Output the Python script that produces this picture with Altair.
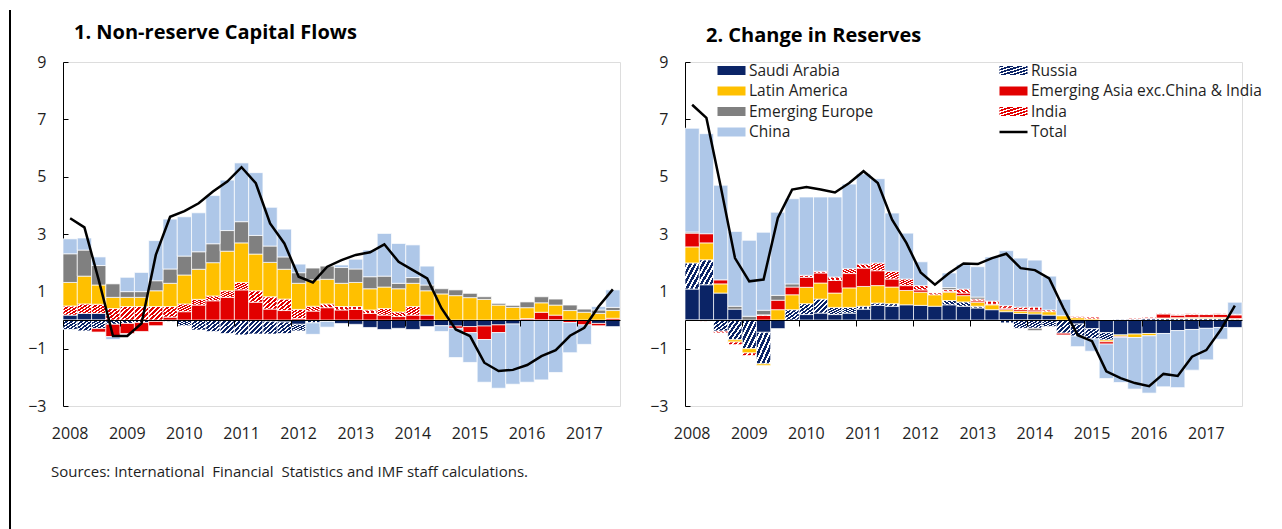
import altair as alt
import pandas as pd

FONT = "Open Sans"
years = list(range(2008, 2018))
quarters = [f"{y}Q{q}" for y in years for q in (1, 2, 3, 4)][:39]
year_starts = [f"{y}Q1" for y in years]

SERIES = ["Saudi Arabia", "Russia", "Latin America", "Emerging Asia exc.China & India",
          "Emerging Europe", "India", "China", "Total"]

# ---------------- Panel 1: Non-reserve capital flows ----------------
p1_saudi = [0.17, 0.23, 0.23, 0, 0, 0, 0, 0, 0, 0, 0, 0, 0, 0, -0.04, -0.07, -0.15, 0, 0, -0.12,
            -0.15, -0.26, -0.33, -0.29, -0.33, -0.23, -0.20, -0.21, -0.23, -0.21, -0.17, -0.14, 0, 0, 0, 0, 0, -0.12, -0.23]
p1_russia = [-0.33, -0.38, -0.30, -0.15, -0.12, -0.09, -0.05, -0.05, -0.20, -0.35, -0.40, -0.47, -0.52, -0.49, -0.45, -0.40,
             -0.23, -0.10, -0.05, 0, 0, 0, 0, 0, 0, 0, 0, 0, 0, 0, 0, 0, 0, 0, 0, 0, 0, 0, 0]
p1_emasia = [0, 0, -0.12, -0.43, -0.35, -0.31, -0.15, 0.10, 0.29, 0.52, 0.67, 0.79, 1.05, 0.62, 0.38, 0.33, 0.05, 0.31,
             0.43, 0.35, 0.37, 0.23, 0.17, 0.12, 0.17, 0.17, 0, -0.08, -0.21, -0.47, -0.27, 0, 0.05, 0.27, 0.17, -0.09, -0.17, -0.08, 0.06]
p1_india = [0.32, 0.33, 0.32, 0.40, 0.47, 0.47, 0.47, 0.37, 0.27, 0.20, 0.17, 0.23, 0.26, 0.40, 0.43, 0.40, 0.32, 0.17,
            0.13, 0.12, 0.10, 0.12, 0.23, 0.16, 0.30, 0, 0, 0, 0, 0, 0, 0, 0, 0, 0, 0, 0, 0, 0]
p1_latam = [0.82, 0.97, 0.67, 0.39, 0.32, 0.32, 0.55, 0.81, 1.01, 1.05, 1.16, 1.38, 1.38, 1.28, 1.20, 1.04, 0.91, 0.92,
            0.86, 0.81, 0.84, 0.74, 0.75, 0.81, 0.81, 0.85, 0.91, 0.85, 0.78, 0.72, 0.52, 0.44, 0.38, 0.33, 0.35, 0.33, 0.27, 0.23, 0.27]
p1_emeu = [1.00, 0.91, 0.68, 0.47, 0.20, 0.20, 0.35, 0.50, 0.66, 0.61, 0.66, 0.72, 0.74, 0.65, 0.57, 0.43, 0.37, 0.41,
           0.46, 0.55, 0.47, 0.42, 0.38, 0.19, 0.20, 0.20, 0.18, 0.20, 0.15, 0.09, 0.06, 0.07, 0.20, 0.21, 0.21, 0.19, 0.11, 0.12, 0.11]
p1_china = [0.52, 0.42, 0.30, -0.10, 0.50, 0.67, 1.40, 1.74, 1.37, 1.36, 1.68, 1.76, 2.05, 2.19, 1.35, 0.97, 0.30, -0.40,
            -0.20, 0.09, 0.34, 0.93, 1.49, 1.39, 1.14, 0.66, -0.20, -1.02, -1.04, -1.49, -1.94, -2.10, -2.17, -2.09, -1.83, -1.05, -0.68, 0.12, 0.61]
p1_total = [3.55, 3.23, 1.40, -0.56, -0.56, -0.12, 2.27, 3.60, 3.80, 4.07, 4.48, 4.83, 5.33, 4.77, 3.37, 2.67, 1.51, 1.31,
            1.86, 2.09, 2.27, 2.36, 2.64, 2.03, 1.74, 1.45, 0.41, -0.33, -0.56, -1.49, -1.78, -1.74, -1.57, -1.26, -1.05, -0.55, -0.27, 0.47, 1.07]

# ---------------- Panel 2: Change in reserves ----------------
p2_saudi = [1.08, 1.23, 0.94, 0.38, 0, -0.43, -0.30, 0, 0.19, 0.24, 0.19, 0.24, 0.38, 0.51, 0.48, 0.53, 0.51, 0.48,
            0.53, 0.48, 0.42, 0.36, 0.29, 0.23, 0.21, 0.17, 0, -0.14, -0.30, -0.44, -0.52, -0.49, -0.47, -0.47, -0.37, -0.33, -0.29, -0.26, -0.26]
p2_russia = [0.91, 0.87, -0.39, -0.69, -1.00, -1.10, 0, 0.36, 0.38, 0.49, 0.25, 0.20, 0.10, 0.08, 0.09, 0, 0, 0,
             0.15, 0.15, 0.06, 0, -0.10, -0.29, -0.29, -0.23, -0.46, -0.42, -0.36, -0.26, 0.02, 0.03, 0.05, 0.05, 0.05, 0.05, 0.05, 0.05, 0.03]
p2_latam = [0.56, 0.59, 0.32, -0.08, -0.15, -0.06, 0.36, 0.52, 0.57, 0.56, 0.50, 0.68, 0.69, 0.61, 0.58, 0.50, 0.46, 0.40,
            0.29, 0.22, 0.14, 0.17, 0.07, 0.08, 0.08, 0.12, 0.15, 0.08, 0.04, -0.06, -0.05, -0.12, -0.08, 0.02, 0.03, 0.04, 0.04, 0.04, 0.02]
p2_emasia = [0.48, 0.32, 0.14, 0, 0, 0.16, 0.33, 0.27, 0.35, 0.35, 0.44, 0.50, 0.64, 0.52, 0.28, 0.17, 0.08, 0,
             0.03, 0.09, 0.05, 0.02, 0.05, 0.06, 0.06, 0, -0.06, 0, 0, -0.08, -0.03, 0, 0.02, 0.14, 0.09, 0.10, 0.10, 0.11, 0.13]
p2_india = [-0.03, -0.04, -0.06, -0.09, -0.09, 0.02, 0, 0, 0.07, 0.06, 0.12, 0.17, 0.14, 0.27, 0.27, 0.23, 0.15, 0.06,
            0.06, 0.14, 0.06, 0.11, 0.09, 0.08, 0.10, 0.06, 0, 0.04, 0.06, 0, 0, 0.03, 0.03, 0.02, 0.02, 0.03, 0.02, 0.02, 0.02]
p2_emeu = [0.04, 0, 0, 0.10, 0.13, 0.16, 0.17, 0.11, 0, 0, 0, 0, 0, 0, 0, 0, 0, 0,
           0.07, 0, 0.07, 0, 0, 0, -0.08, 0, 0, 0, 0, 0, 0, 0, 0, 0, 0, 0, 0, 0, 0]
p2_china = [3.62, 3.49, 3.30, 2.61, 2.65, 2.72, 2.90, 2.97, 2.73, 2.59, 2.79, 2.95, 3.15, 2.94, 2.03, 1.60, 0.83, 0,
            0.51, 0.85, 1.06, 1.54, 1.92, 1.71, 1.64, 1.18, 0.57, -0.37, -0.43, -1.20, -1.58, -1.80, -2.00, -1.86, -1.99, -1.42, -1.10, -0.41, 0.42]
p2_total = [7.51, 7.05, 4.66, 2.16, 1.35, 1.41, 3.56, 4.55, 4.64, 4.55, 4.45, 4.78, 5.19, 4.78, 3.50, 2.69, 1.66, 1.23,
            1.64, 1.97, 1.95, 2.16, 2.31, 1.81, 1.74, 1.45, 0.41, -0.53, -0.74, -1.79, -2.03, -2.20, -2.31, -1.88, -1.95, -1.28, -1.05, -0.35, 0.50]

y_ticks = [-3, -1, 1, 3, 5, 7, 9]
SOURCE = "Sources: International\u00a0 Financial\u00a0 Statistics and IMF staff calculations."

NAVY = "#0b2466"
RED = "#e20000"
TXT = "#1e1e1e"


def stripes(color, n=6, frac=0.58):
    stops = []
    for k in range(n):
        a, b, c = k / n, (k + frac) / n, (k + 1) / n
        stops += [f"{{offset:{a:.4f},color:'{color}'}}", f"{{offset:{b:.4f},color:'{color}'}}",
                  f"{{offset:{b:.4f},color:'#ffffff'}}", f"{{offset:{c:.4f},color:'#ffffff'}}"]
    return "{gradient:'linear',x1:0,y1:0,x2:1,y2:1,stops:[" + ",".join(stops) + "]}"


RANGE = [NAVY, alt.ExprRef(expr=stripes(NAVY)), "#ffc000", RED, "#808080",
         alt.ExprRef(expr=stripes(RED)), "#aec7e8", "#000000"]

W, H = 557, 344
ZERO_OFFSET = -H * 3 / 12


def long_df(series, order):
    rows = []
    for name, vals in series.items():
        for q, v in zip(quarters, vals):
            if v != 0:
                rows.append({"q": q, "series": name, "v": v, "ord": order.index(name)})
    return pd.DataFrame(rows)


def panel(series, order, total, title, dx, toff, legend, extras):
    df = long_df(series, order)
    tdf = pd.DataFrame({"q": quarters, "total": total})
    xs = alt.Scale(domain=quarters, paddingInner=0, paddingOuter=0)
    ys = alt.Scale(domain=[-3, 9], nice=False, zero=False)
    bars = alt.Chart(df).mark_bar(stroke="white", strokeWidth=0.7).encode(
        x=alt.X("q:N", scale=xs, axis=alt.Axis(
            orient="bottom", offset=ZERO_OFFSET, labels=False, domain=True, domainColor="black",
            domainWidth=1, ticks=True, tickSize=6, tickColor="black", tickWidth=1,
            values=year_starts, bandPosition=0, grid=False, title=None, zindex=1)),
        y=alt.Y("v:Q", stack="zero", scale=ys, axis=alt.Axis(
            orient="left", values=y_ticks, ticks=False, tickSize=0, labelPadding=17, domainColor="black",
            domainWidth=1, grid=False, title=None, labelFont=FONT, labelFontSize=16, labelColor=TXT)),
        color=alt.Color("series:N", scale=alt.Scale(domain=SERIES, range=RANGE), legend=legend),
        order=alt.Order("ord:Q", sort="ascending"),
    )
    line = alt.Chart(tdf).mark_line(color="black", strokeWidth=2.5).encode(
        x=alt.X("q:N", scale=xs, axis=alt.Axis(
            orient="bottom", labels=True, ticks=False, domain=False, values=year_starts, labelAngle=0,
            labelExpr="slice(datum.value, 0, 4)", labelPadding=19, labelFont=FONT, labelFontSize=16,
            labelColor=TXT, grid=False, title=None)),
        y=alt.Y("total:Q", scale=ys, axis=alt.Axis(
            orient="right", offset=-W, labels=False, domain=False, ticks=True, tickSize=5,
            tickColor="black", values=y_ticks, grid=False, title=None)),
    )
    layers = [bars, line] + extras
    return alt.layer(*layers).resolve_axis(x="independent", y="independent").properties(
        width=W, height=H,
        title=alt.TitleParams(title, anchor="start", frame="group", dx=dx, offset=toff,
                              font=FONT, fontSize=20, fontWeight="bold", color="black"),
    )


order1 = ["Saudi Arabia", "Russia", "Emerging Asia exc.China & India", "India", "Latin America",
          "Emerging Europe", "China"]
order2 = ["Saudi Arabia", "Russia", "Latin America", "Emerging Asia exc.China & India", "India",
          "Emerging Europe", "China"]

border = alt.Chart(pd.DataFrame({"a": [0]})).mark_rule(color="black", strokeWidth=2).encode(
    x=alt.value(-53), y=alt.value(-52), y2=alt.value(480))
source = alt.Chart(pd.DataFrame({"t": [SOURCE]})).mark_text(
    align="left", baseline="middle", font=FONT, fontSize=15, color=TXT).encode(
    x=alt.value(-12), y=alt.value(410), text="t:N")

p1 = panel({"Saudi Arabia": p1_saudi, "Russia": p1_russia, "Emerging Asia exc.China & India": p1_emasia,
            "India": p1_india, "Latin America": p1_latam, "Emerging Europe": p1_emeu, "China": p1_china},
           order1, p1_total, "1. Non-reserve Capital Flows", 11, -33.5, None, [border, source])

legend = alt.Legend(
    title=None, orient="none", legendX=36, legendY=-2, columns=2, direction="horizontal", padding=0,
    symbolType=alt.ExprRef(expr="datum.value === 'Total' ? 'M-1.556,0H1.556' : 'M-1.556,-0.5H1.556V0.5H-1.556Z'"),
    symbolSize=324, symbolStrokeColor=alt.ExprRef(expr="datum.value === 'Total' ? '#000000' : 'transparent'"),
    symbolStrokeWidth=2.5, labelFont=FONT, labelFontSize=15.5, labelColor=TXT, labelOffset=7,
    rowPadding=0.5, columnPadding=120, labelLimit=0)

p2 = panel({"Saudi Arabia": p2_saudi, "Russia": p2_russia, "Latin America": p2_latam,
            "Emerging Asia exc.China & India": p2_emasia, "India": p2_india, "Emerging Europe": p2_emeu,
            "China": p2_china},
           order2, p2_total, "2. Change in Reserves", 21, 8.5, legend, [])

chart = alt.hconcat(p1, p2, spacing=28).resolve_scale(color="independent").properties(
    padding=0, autosize=alt.AutoSizeParams(type="pad")
).configure_view(stroke=None).configure(font=FONT, background="white")

chart.save("out.html", embed_options={"renderer": "svg", "actions": False})
